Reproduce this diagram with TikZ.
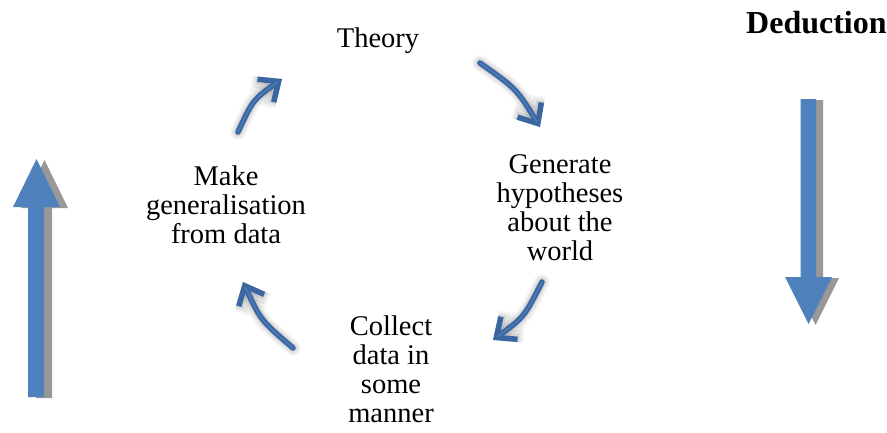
\documentclass[tikz,border=0pt]{standalone}
\usepackage{fontspec}
\setmainfont{Liberation Serif}
\usetikzlibrary{arrows.meta,calc}
\definecolor{arrowblue}{HTML}{4F81BD}
\definecolor{arrowshade}{HTML}{989898}
\definecolor{cycleblue}{HTML}{3A67A2}
\definecolor{cyclelight}{HTML}{4C7DBB}
\tikzset{
  label/.style={align=center, inner sep=0pt, anchor=base,
    font=\fontsize{28.5}{28.7}\selectfont},
  cyclehead/.style={-{Straight Barb[length=16pt,width=28pt]}},
  cycle/.style={cyclehead, draw=cycleblue, line width=5.5pt, line cap=round, line join=round},
  cyclehi/.style={draw=cyclelight, line width=1.4pt, line cap=round},
  haze/.style={cyclehead, draw=black, line cap=round, line join=round}
}
% draws a curved cycle arrow from #1 to #2 through control point #3, with a soft shadow
\newcommand{\cyclearrow}[3]{%
  \begin{scope}[shift={(5,5)}]
    \draw[haze, line width=16pt, opacity=.04] (#1) .. controls (#3) .. (#2);
    \draw[haze, line width=12pt, opacity=.06] (#1) .. controls (#3) .. (#2);
    \draw[haze, line width=8pt, opacity=.08] (#1) .. controls (#3) .. (#2);
  \end{scope}
  \draw[cycle] (#1) .. controls (#3) .. (#2);
  \path[cyclehi] (#1) .. controls (#3) .. ($(#2)!0.15!(#3)$);
}
\begin{document}
\begin{tikzpicture}[x=1pt,y=-1pt]
  \useasboundingbox (0,0) rectangle (887,432);
  \fill[white] (0,0) rectangle (887,432);

  % cycle labels (base anchor sits on the last line)
  \node[label] (theory) at (378,47) {Theory};
  \node[label] (hypo) at (560,260) {Generate\\hypotheses\\about the\\world};
  \node[label] (collect) at (391,422) {Collect\\data in\\some\\manner};
  \node[label] (general) at (226,243) {Make\\generalisation\\from data};
  \node[inner sep=0pt, anchor=base west, font=\fontsize{32}{34}\selectfont\bfseries]
    (deduction) at (746,33) {Deduction};

  % end points and control points of the cycle arrows
  \coordinate (a1s) at (238,132); \coordinate (a1e) at (282,79);  \coordinate (a1c) at (253,99.7);
  \coordinate (a2s) at (480,63);  \coordinate (a2e) at (540,127); \coordinate (a2c) at (516.6,88.9);
  \coordinate (a3s) at (542,282); \coordinate (a3e) at (493,340); \coordinate (a3c) at (524.3,316.9);
  \coordinate (a4s) at (293,348); \coordinate (a4e) at (243,282); \coordinate (a4c) at (260.8,320.4);

  \cyclearrow{a1s}{a1e}{a1c}
  \cyclearrow{a2s}{a2e}{a2c}
  \cyclearrow{a3s}{a3e}{a3c}
  \cyclearrow{a4s}{a4e}{a4c}

  % upward block arrow (left)
  \fill[arrowshade, shift={(8,1)}]
    (28,397) -- (28,207) -- (13,207) -- (36.5,159) -- (60,207) -- (44,207) -- (44,397) -- cycle;
  \fill[arrowblue]
    (28,397) -- (28,207) -- (13,207) -- (36.5,159) -- (60,207) -- (44,207) -- (44,397) -- cycle;

  % downward block arrow (right)
  \fill[arrowshade, shift={(7,1)}]
    (800.5,99) -- (800.5,277) -- (785,277) -- (808.5,324) -- (832,277) -- (816,277) -- (816,99) -- cycle;
  \fill[arrowblue]
    (800.5,99) -- (800.5,277) -- (785,277) -- (808.5,324) -- (832,277) -- (816,277) -- (816,99) -- cycle;
\end{tikzpicture}
\end{document}
